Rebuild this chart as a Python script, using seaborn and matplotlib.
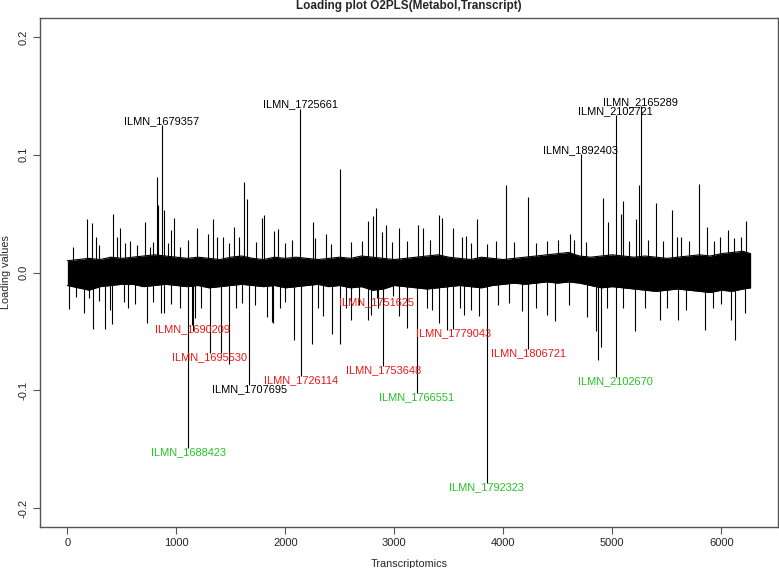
import numpy as np
import pandas as pd
import matplotlib
matplotlib.use("Agg")
import matplotlib.pyplot as plt
import seaborn as sns

# dense core of the loading trace, read as an envelope every 100 probes
band_x = list(range(0, 6300, 100)) + [6270]
band_hi = [0.010, 0.011, 0.012, 0.011, 0.013, 0.012,
           0.013, 0.014, 0.015, 0.014, 0.013,
           0.012, 0.013, 0.012, 0.011, 0.013,
           0.014, 0.012, 0.011, 0.013, 0.012,
           0.013, 0.012, 0.011, 0.012, 0.013,
           0.012, 0.014, 0.013, 0.012, 0.011,
           0.012, 0.013, 0.014, 0.015, 0.013,
           0.012, 0.011, 0.013, 0.012, 0.011,
           0.012, 0.013, 0.014, 0.015, 0.016,
           0.017, 0.014, 0.013, 0.014, 0.015,
           0.014, 0.013, 0.014, 0.013, 0.012,
           0.013, 0.014, 0.015, 0.014, 0.016,
           0.017, 0.018, 0.016]
band_lo = [-0.011, -0.013, -0.015, -0.012, -0.011, -0.010,
           -0.010, -0.012, -0.011, -0.010, -0.011,
           -0.012, -0.011, -0.013, -0.012, -0.011,
           -0.010, -0.011, -0.012, -0.011, -0.013,
           -0.012, -0.011, -0.010, -0.012, -0.011,
           -0.013, -0.012, -0.015, -0.014, -0.011,
           -0.012, -0.013, -0.014, -0.013, -0.012,
           -0.011, -0.012, -0.013, -0.011, -0.010,
           -0.009, -0.010, -0.009, -0.008, -0.009,
           -0.008, -0.009, -0.011, -0.013, -0.012,
           -0.013, -0.014, -0.015, -0.016, -0.015,
           -0.014, -0.015, -0.016, -0.017, -0.015,
           -0.016, -0.014, -0.013]

# unlabelled spikes sticking out of the band
pos_x = [55, 178, 230, 260, 293, 419, 458, 483, 529, 575, 636, 713, 758, 789, 826, 835,
         890, 927, 948, 982, 1033, 1104, 1187, 1288, 1334, 1370, 1425, 1483, 1529, 1578,
         1624, 1646, 1735, 1783, 1805, 1899, 1937, 2000, 2060, 2251, 2275, 2371, 2420,
         2502, 2600, 2700, 2762, 2808, 2832, 2884, 2924, 2980, 3046, 3120, 3215, 3260,
         3330, 3413, 3435, 3541, 3618, 3658, 3700, 3756, 3850, 3930, 4022, 4100, 4224,
         4300, 4400, 4500, 4612, 4650, 4759, 4912, 4958, 5083, 5101, 5150, 5215, 5248,
         5330, 5401, 5470, 5545, 5590, 5630, 5700, 5795, 5866, 5930, 5990, 6059, 6120,
         6180, 6227]
pos_y = [0.022, 0.045, 0.042, 0.030, 0.023, 0.050, 0.030, 0.038, 0.025, 0.027, 0.023,
         0.043, 0.022, 0.026, 0.081, 0.057, 0.053, 0.025, 0.036, 0.046, 0.022, 0.028,
         0.038, 0.033, 0.045, 0.030, 0.030, 0.025, 0.039, 0.030, 0.077, 0.062, 0.026,
         0.046, 0.049, 0.035, 0.037, 0.025, 0.028, 0.043, 0.029, 0.033, 0.024, 0.088,
         0.026, 0.027, 0.044, 0.048, 0.055, 0.034, 0.040, 0.026, 0.038, 0.027, 0.040,
         0.038, 0.028, 0.049, 0.046, 0.038, 0.030, 0.031, 0.025, 0.045, 0.024, 0.027,
         0.074, 0.026, 0.064, 0.025, 0.027, 0.028, 0.033, 0.028, 0.026, 0.063, 0.043,
         0.050, 0.061, 0.027, 0.045, 0.074, 0.028, 0.059, 0.027, 0.053, 0.030, 0.030,
         0.027, 0.075, 0.039, 0.027, 0.030, 0.036, 0.029, 0.030, 0.044]
neg_x = [16, 80, 150, 200, 239, 290, 346, 388, 414, 520, 560, 620, 731, 790, 857, 887,
         950, 1034, 1150, 1172, 1230, 1407, 1483, 1550, 1600, 1720, 1829, 1875, 1890,
         1950, 2000, 2083, 2248, 2300, 2349, 2425, 2502, 2560, 2603, 2680, 2762, 2786,
         2850, 2991, 3044, 3116, 3300, 3350, 3413, 3485, 3600, 3642, 3700, 3774, 3950,
         4050, 4175, 4300, 4398, 4474, 4600, 4765, 4851, 4872, 4895, 4950, 5100, 5208,
         5300, 5438, 5500, 5606, 5680, 5850, 5920, 6000, 6086, 6126, 6217]
neg_y = [-0.031, -0.021, -0.034, -0.022, -0.048, -0.024, -0.048, -0.032, -0.044, -0.025,
         -0.030, -0.027, -0.043, -0.025, -0.034, -0.034, -0.027, -0.030, -0.050, -0.039,
         -0.030, -0.068, -0.078, -0.030, -0.026, -0.028, -0.038, -0.042, -0.043, -0.030,
         -0.025, -0.057, -0.061, -0.030, -0.037, -0.052, -0.061, -0.030, -0.040, -0.028,
         -0.040, -0.036, -0.030, -0.020, -0.037, -0.047, -0.030, -0.032, -0.043, -0.049,
         -0.030, -0.036, -0.032, -0.037, -0.028, -0.026, -0.033, -0.030, -0.036, -0.041,
         -0.028, -0.038, -0.050, -0.074, -0.063, -0.030, -0.030, -0.050, -0.030, -0.040,
         -0.030, -0.040, -0.032, -0.049, -0.030, -0.027, -0.040, -0.057, -0.034]

# labelled probes
lab_names = ["ILMN_1679357", "ILMN_1725661", "ILMN_1892403", "ILMN_2102721", "ILMN_2165289",
             "ILMN_1688423", "ILMN_1690209", "ILMN_1695530", "ILMN_1707695", "ILMN_1726114",
             "ILMN_1751625", "ILMN_1753648", "ILMN_1766551", "ILMN_1779043", "ILMN_1792323",
             "ILMN_1806721", "ILMN_2102670"]
lab_x = [866, 2135, 4710, 5032, 5260, 1110, 1148, 1305, 1670, 2144, 2840, 2897, 3207,
         3540, 3847, 4230, 5030]
lab_y = [0.125, 0.139, 0.1006, 0.1336, 0.141, -0.149, -0.0445, -0.068, -0.0953, -0.0875,
         -0.022, -0.079, -0.102, -0.048, -0.1785, -0.065, -0.0886]
lab_group = ["none", "none", "none", "none", "none", "up", "down", "down", "none", "down",
             "down", "down", "up", "down", "up", "down", "up"]

group_colors = {"none": "black", "down": "#f01414", "up": "#22c522"}

sns.set_theme(style="white")
plt.rcParams["font.family"] = ["Liberation Sans", "DejaVu Sans"]

fig = plt.figure(figsize=(7.79, 5.68), dpi=100)
ax = fig.add_axes([40 / 779, 41 / 568, 738 / 779, 509 / 568])

band = pd.DataFrame({"x": band_x, "hi": band_hi, "lo": band_lo})
ax.fill_between(band["x"], band["lo"], band["hi"], color="black", lw=0)
sns.lineplot(data=band, x="x", y="hi", color="black", lw=0.8, ax=ax)
sns.lineplot(data=band, x="x", y="lo", color="black", lw=0.8, ax=ax)

ax.vlines(pos_x, 0, pos_y, color="black", lw=0.8)
ax.vlines(neg_x, 0, neg_y, color="black", lw=0.8)
ax.vlines(lab_x, 0, lab_y, color="black", lw=0.8)

for name, x, y, g in zip(lab_names, lab_x, lab_y, lab_group):
    off = 0.0035 if y > 0 else -0.0035
    ax.text(x, y + off, name, ha="center", va="center", fontsize=7.9,
            color=group_colors[g])

ax.set_xlim(-251, 6521)
ax.set_ylim(-0.216, 0.216)
ax.set_xticks([0, 1000, 2000, 3000, 4000, 5000, 6000])
ax.set_yticks([-0.2, -0.1, 0.0, 0.1, 0.2])
ax.set_yticklabels(["-0.2", "-0.1", "0.0", "0.1", "0.2"], rotation=90, va="center")
ax.tick_params(axis="both", which="both", length=5, width=0.8, color="#555555",
               labelsize=8, pad=3, left=True, bottom=True)
for s in ax.spines.values():
    s.set_color("#555555")
    s.set_linewidth(1.0)

ax.set_xlabel("Transcriptomics", fontsize=7.8, labelpad=8)
ax.set_ylabel("Loading values", fontsize=7.8)
ax.yaxis.set_label_coords(-0.039, 0.5)
ax.set_title("")
fig.text(409 / 779, 1 - 6 / 568, "Loading plot O2PLS(Metabol,Transcript)",
         ha="center", va="center", fontsize=8.5, fontweight="bold")

fig.savefig("out.png", dpi=100)
